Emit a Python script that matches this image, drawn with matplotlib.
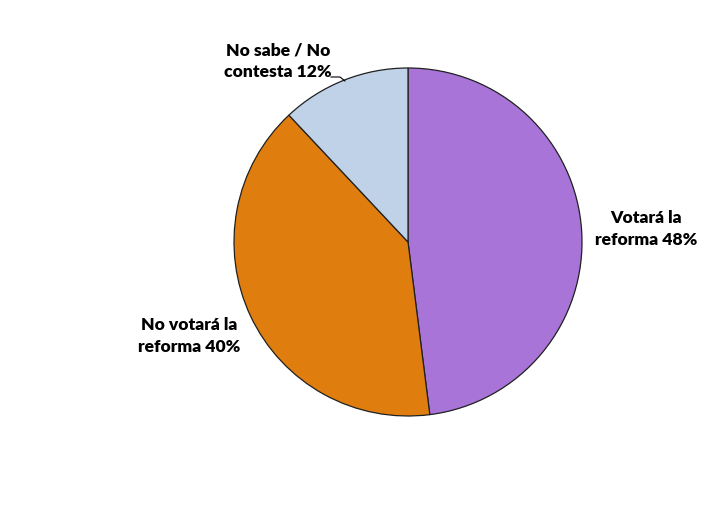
import matplotlib
matplotlib.use("Agg")
import matplotlib.pyplot as plt

labels = ["Votará la\nreforma 48%", "No votará la\nreforma 40%", "No sabe / No\ncontesta 12%"]
values = [48, 40, 12]
colors = ["#A874D8", "#DF7E0E", "#C0D2E8"]

W, H = 716, 517
fig = plt.figure(figsize=(W / 100, H / 100), dpi=100)
ax = fig.add_axes([0, 0, 1, 1])
cx, cy, r = 408, H - 242, 174
ax.pie(values, colors=colors, startangle=90, counterclock=False,
       center=(cx, cy), radius=r,
       wedgeprops=dict(edgecolor="#202020", linewidth=0.9))
ax.set_xlim(0, W)
ax.set_ylim(0, H)
ax.set_aspect("equal")
ax.axis("off")

fp = dict(family="Lato", fontweight="heavy", fontsize=12.6, ha="center", va="center",
          linespacing=1.4, color="black")
ax.text(646, H - 229, labels[0], **fp)
ax.text(189, H - 336, labels[1], **fp)
ax.text(278, H - 61, labels[2], **fp)
# leader line for small slice
ax.plot([331, 340, 345], [H - 77, H - 77, H - 81], color="black", lw=0.8)

fig.savefig("out.png", dpi=100)
